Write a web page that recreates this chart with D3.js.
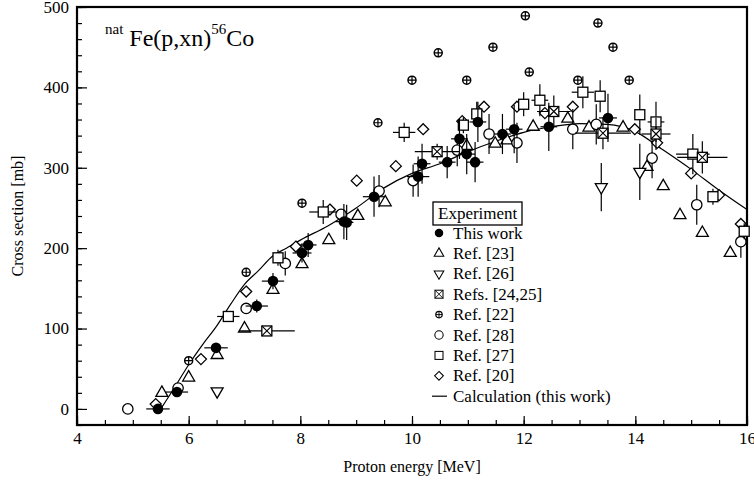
<!DOCTYPE html>
<html>
<head>
<meta charset="utf-8">
<script src="https://cdn.jsdelivr.net/npm/d3@7"></script>
<style>
  body { margin: 0; background: #fff; }
  svg text { font-family: "Times New Roman", "Liberation Serif", "DejaVu Serif", serif !important; fill: #000; }
</style>
</head>
<body>
<div id="chart"></div>
<script>
// each point: [energy MeV, cross section mb, dE, dSigma]
const thisWork = [
  [5.45, 0, 0.21, 0], [5.79, 21, 0.2, 5], [6.49, 76, 0.21, 6], [7.22, 128, 0.2, 8],
  [7.51, 159, 0.2, 10], [8.03, 194, 0.17, 12], [8.14, 204, 0.15, 15], [8.78, 233, 0.15, 22],
  [8.83, 232, 0.12, 22], [9.32, 264, 0.2, 25], [10.11, 289, 0.2, 25], [10.18, 305, 0.15, 25],
  [10.63, 307, 0.15, 20], [10.85, 336, 0.15, 25], [10.98, 317, 0.15, 25], [11.13, 307, 0.15, 25],
  [11.18, 357, 0.15, 25], [11.62, 342, 0.15, 25], [11.83, 348, 0.15, 30], [12.45, 351, 0.15, 30],
  [13.51, 362, 0.16, 30]
];
const ref23 = [
  [5.52, 20], [6.0, 39], [6.51, 67], [7.0, 100], [7.51, 148], [8.03, 180], [8.51, 210],
  [9.03, 240], [9.52, 257], [10.98, 327], [11.49, 330], [11.7, 334], [12.17, 351], [12.79, 361],
  [13.17, 350], [13.78, 350], [14.21, 301], [14.5, 277], [14.8, 241], [15.2, 219], [15.7, 194]
];
const ref26 = [[6.51, 22, 0, 0], [13.39, 276, 0, 30], [14.08, 295, 0, 35]];
const refs2425 = [
  [7.4, 97, 0.5, 0], [10.45, 320, 0.4, 10], [12.54, 370, 0.3, 20], [13.42, 343, 0.5, 20],
  [14.37, 342, 0.26, 20], [15.2, 313, 0.45, 20]
];
const ref22 = [
  [6.0, 60], [7.03, 170], [8.03, 256], [9.39, 356], [10.0, 409], [10.47, 443], [10.98, 409],
  [11.45, 450], [12.03, 489], [12.1, 419], [12.97, 409], [13.33, 480], [13.6, 450], [13.89, 409]
];
const ref28 = [
  [4.91, 0, 0], [5.81, 26, 0], [7.03, 125, 0], [7.73, 181, 15], [8.73, 242, 0], [9.41, 271, 20],
  [10.02, 284, 20], [10.81, 322, 20], [11.38, 342, 25], [11.88, 331, 25], [12.88, 348, 25],
  [13.3, 354, 25], [14.3, 312, 25], [15.1, 254, 25], [15.89, 208, 20]
];
const ref27 = [
  [6.71, 115, 0.2, 0], [7.6, 188, 0, 10], [8.41, 245, 0.25, 15], [9.86, 344, 0.2, 12],
  [10.92, 353, 0, 10], [11.16, 367, 0, 15], [12.0, 379, 0, 15], [12.29, 384, 0.15, 20],
  [13.06, 394, 0.2, 20], [13.37, 389, 0, 20], [14.08, 366, 0, 25], [14.37, 357, 0.15, 25],
  [15.03, 317, 0.3, 25], [15.39, 264, 0, 10], [15.95, 221, 0, 10]
];
const ref20 = [
  [5.41, 6], [6.22, 62], [7.03, 146], [7.92, 202], [8.53, 248], [9.01, 284], [9.71, 302],
  [10.2, 348], [10.9, 358], [11.29, 376], [11.88, 376], [12.38, 368], [12.88, 376], [13.99, 348],
  [14.39, 331], [15.0, 293], [15.5, 266], [15.89, 230]
];
// calculation (this work)
const calcE = [5.5, 5.75, 6, 6.25, 6.5, 6.75, 7, 7.25, 7.5, 7.75, 8, 8.5, 9, 9.5, 10, 10.5, 11,
  11.5, 12, 12.5, 13, 13.5, 14, 14.5, 15, 15.5, 16];
const calcCS = [0, 27, 55, 80, 103, 130, 155, 172, 190, 200, 210, 228, 250, 275, 293, 305, 320,
  333, 344, 351, 355, 354, 345, 322, 298, 272, 248];

const xTicks = [4, 6, 8, 10, 12, 14, 16];
const yTicks = [0, 100, 200, 300, 400, 500];

const serif = "'Times New Roman', 'Liberation Serif', 'DejaVu Serif', serif";
const width = 754, height = 480;
const svg = d3.select("#chart").append("svg")
  .attr("width", width)
  .attr("height", height)
  .style("font-family", serif);

const x = d3.scaleLinear().domain([4, 16]).range([77, 747]);
const y = d3.scaleLinear().domain([-20, 500]).range([425, 7]);

// minor ticks
svg.append("g")
  .attr("transform", `translate(0,${y(-20)})`)
  .call(d3.axisBottom(x).tickValues(d3.range(4, 16.01, 0.5)).tickSize(-5).tickFormat(""))
  .call(g => g.select(".domain").remove());
svg.append("g")
  .attr("transform", `translate(${x(4)},0)`)
  .call(d3.axisLeft(y).tickValues(d3.range(-20, 500.1, 20)).tickSize(-5).tickFormat(""))
  .call(g => g.select(".domain").remove());

// major ticks with labels
svg.append("g")
  .attr("transform", `translate(0,${y(-20)})`)
  .call(d3.axisBottom(x).tickValues(xTicks).tickSize(-9).tickPadding(7).tickFormat(d3.format("d")))
  .call(g => g.select(".domain").remove())
  .call(g => g.attr("font-family", serif).selectAll("text").style("font-size", "17px"));
svg.append("g")
  .attr("transform", `translate(${x(4)},0)`)
  .call(d3.axisLeft(y).tickValues(yTicks).tickSize(-10).tickPadding(8).tickFormat(d3.format("d")))
  .call(g => g.select(".domain").remove())
  .call(g => g.attr("font-family", serif).selectAll("text").style("font-size", "17px"));

svg.selectAll(".tick line").attr("stroke", "#000").attr("stroke-width", 1.2);

// frame
svg.append("rect")
  .attr("x", x(4)).attr("y", y(500))
  .attr("width", x(16) - x(4)).attr("height", y(-20) - y(500))
  .attr("fill", "none").attr("stroke", "#000").attr("stroke-width", 2.2);

// axis titles
svg.append("text")
  .attr("x", 412).attr("y", 472)
  .attr("text-anchor", "middle")
  .style("font-size", "16px")
  .text("Proton  energy [MeV]");
svg.append("text")
  .attr("transform", "translate(23,216) rotate(-90)")
  .attr("text-anchor", "middle")
  .style("font-size", "16px")
  .text("Cross  section [mb]");

// reaction label
const title = svg.append("text").attr("x", 105).attr("y", 46);
title.append("tspan").style("font-size", "15px").attr("dy", -12).text("nat");
title.append("tspan").style("font-size", "24px").attr("dy", 12).text(" Fe(p,xn)");
title.append("tspan").style("font-size", "15px").attr("dy", -12).text("56");
title.append("tspan").style("font-size", "24px").attr("dy", 12).text("Co");

// calculation curve
const line = d3.line().x((d, i) => x(calcE[i])).y(d => y(d)).curve(d3.curveMonotoneX);
svg.append("path")
  .datum(calcCS)
  .attr("d", line)
  .attr("fill", "none")
  .attr("stroke", "#000")
  .attr("stroke-width", 1.2);

// marker drawing helpers
const markers = {
  filled: g => g.append("circle").attr("r", 5.3).attr("fill", "#000"),
  triUp: g => g.append("path").attr("d", d3.symbol(d3.symbolTriangle, 62)()).attr("fill", "#fff").attr("stroke", "#000").attr("stroke-width", 1.3),
  triDown: g => g.append("path").attr("d", d3.symbol(d3.symbolTriangle, 62)()).attr("transform", "rotate(180)").attr("fill", "#fff").attr("stroke", "#000").attr("stroke-width", 1.3),
  xSquare: g => {
    g.append("rect").attr("x", -5).attr("y", -5).attr("width", 10).attr("height", 10).attr("fill", "#fff").attr("stroke", "#000").attr("stroke-width", 1.3);
    g.append("path").attr("d", "M-5,-5L5,5M5,-5L-5,5").attr("stroke", "#000").attr("stroke-width", 1.1);
  },
  circPlus: g => {
    g.append("circle").attr("r", 4).attr("fill", "#fff").attr("stroke", "#000").attr("stroke-width", 1.5);
    g.append("path").attr("d", "M-4,0H4M0,-4V4").attr("stroke", "#000").attr("stroke-width", 1.2);
  },
  open: g => g.append("circle").attr("r", 5.2).attr("fill", "#fff").attr("stroke", "#000").attr("stroke-width", 1.3),
  square: g => g.append("rect").attr("x", -5).attr("y", -5).attr("width", 10).attr("height", 10).attr("fill", "#fff").attr("stroke", "#000").attr("stroke-width", 1.3),
  diamond: g => g.append("path").attr("d", "M0,-5.5L5.5,0L0,5.5L-5.5,0Z").attr("fill", "#fff").attr("stroke", "#000").attr("stroke-width", 1.3)
};

function drawSeries(data, kind, errIdx) {
  const g = svg.append("g");
  // error bars first
  data.forEach(d => {
    const dx = errIdx.dx != null ? (d[errIdx.dx] || 0) : 0;
    const dy = errIdx.dy != null ? (d[errIdx.dy] || 0) : 0;
    if (dx > 0) g.append("line").attr("x1", x(d[0] - dx)).attr("x2", x(d[0] + dx))
      .attr("y1", y(d[1])).attr("y2", y(d[1])).attr("stroke", "#000").attr("stroke-width", 1.2);
    if (dy > 0) g.append("line").attr("x1", x(d[0])).attr("x2", x(d[0]))
      .attr("y1", y(d[1] - dy)).attr("y2", y(d[1] + dy)).attr("stroke", "#000").attr("stroke-width", 1.2);
  });
  data.forEach(d => {
    const m = g.append("g").attr("transform", `translate(${x(d[0])},${y(d[1])})`);
    markers[kind](m);
  });
}

drawSeries(ref20, "diamond", {});
drawSeries(ref23, "triUp", {});
drawSeries(ref26, "triDown", { dx: 2, dy: 3 });
drawSeries(ref28, "open", { dy: 2 });
drawSeries(ref27, "square", { dx: 2, dy: 3 });
drawSeries(refs2425, "xSquare", { dx: 2, dy: 3 });
drawSeries(ref22, "circPlus", {});
drawSeries(thisWork, "filled", { dx: 2, dy: 3 });

// legend
const legendLabels = ["This work", "Ref. [23]", "Ref. [26]", "Refs. [24,25]", "Ref. [22]", "Ref. [28]", "Ref. [27]", "Ref. [20]"];
const legendKinds = ["filled", "triUp", "triDown", "xSquare", "circPlus", "open", "square", "diamond"];
const legend = svg.append("g");
legend.append("rect")
  .attr("x", 433).attr("y", 202).attr("width", 89).attr("height", 23)
  .attr("fill", "#fff").attr("stroke", "#000").attr("stroke-width", 1.3);
legend.append("text").attr("x", 438).attr("y", 219).style("font-size", "17px").text("Experiment");
legendLabels.forEach((lab, i) => {
  const yy = 233 + i * 20.4;
  const m = legend.append("g").attr("transform", `translate(439,${yy}) scale(0.8)`);
  markers[legendKinds[i]](m);
  legend.append("text").attr("x", 453).attr("y", yy + 5.5).style("font-size", "17px").text(lab);
});
const calcY = 233 + 8 * 20.4;
legend.append("line").attr("x1", 432).attr("x2", 447).attr("y1", calcY).attr("y2", calcY)
  .attr("stroke", "#000").attr("stroke-width", 1.2);
legend.append("text").attr("x", 453).attr("y", calcY + 5.5).style("font-size", "17px").text("Calculation (this work)");
</script>
</body>
</html>
